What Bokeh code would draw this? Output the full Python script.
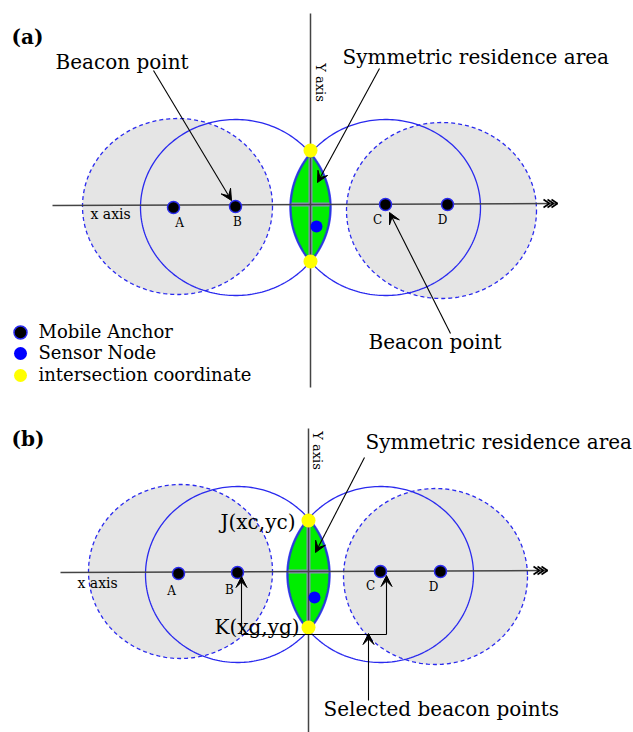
import numpy as np
from bokeh.plotting import figure
from bokeh.models import Range1d, Arrow, VeeHead
from bokeh.core.properties import value
from bokeh.embed import file_html
from bokeh.resources import INLINE

FONT = "DejaVu Serif"
BLUE = "#2a2aee"
GRAY = "#e5e5e5"

# ---------------- data (diagram coordinates, y grows downward) ----------------
anchor_labels = ["A", "B", "C", "D"]

# panel (a)
a_anchor_x = [173, 235, 385, 447]
a_anchor_y = [207, 206, 204, 204]
a_label_x = [179, 237, 377, 442]
a_label_y = [222, 221, 219, 219]
a_circle_cx = [177, 235, 385, 441]
a_circle_cy = [206, 207, 207, 210]
a_circle_rx = [95, 95, 95, 95]
a_circle_ry = [88, 88, 88, 88]
a_yellow_x = [310, 310]
a_yellow_y = [150, 261]
a_sensor_x = [316]
a_sensor_y = [226]
a_xaxis_x = [52, 557]
a_xaxis_y = [205, 203]
a_yaxis_x = [310, 310]
a_yaxis_y = [13, 387]

# panel (b)
b_anchor_x = [178, 237, 380, 440]
b_anchor_y = [573, 572, 571, 571]
b_label_x = [171, 229, 370, 433]
b_label_y = [590, 589, 585, 586]
b_circle_cx = [180, 237, 380, 435]
b_circle_cy = [571, 574, 574, 576]
b_circle_rx = [92, 92, 93, 92]
b_circle_ry = [87, 88, 88, 88]
b_yellow_x = [308, 308]
b_yellow_y = [520, 627]
b_sensor_x = [314]
b_sensor_y = [597]
b_xaxis_x = [60, 547]
b_xaxis_y = [572, 570]
b_yaxis_x = [308, 308]
b_yaxis_y = [428, 732]

# legend
legend_labels = ["Mobile Anchor", "Sensor Node", "intersection coordinate"]
legend_y = [332, 353, 375]

# annotation texts
big_texts = ["Beacon point", "Symmetric residence area", "Beacon point",
             "Symmetric residence area", "J(xc,yc)", "K(xg,yg)", "Selected beacon points"]
big_text_x = [55, 342, 368, 365, 220, 214, 323]
big_text_y = [61, 56, 341, 441, 521, 626, 708]

panel_titles = ["(a)", "(b)"]
panel_title_x = [11, 11]
panel_title_y = [36, 438]

axis_texts = ["x axis", "x axis"]
axis_text_x = [90, 77]
axis_text_y = [213, 582]
yaxis_texts = ["Y axis", "Y axis"]
yaxis_text_x = [320, 317]
yaxis_text_y = [82, 450]

# arrows: start -> end (tip)
arrow_x0 = [153, 379, 450, 364, 241, 386, 368]
arrow_y0 = [70, 68, 333, 457, 634, 634, 700]
arrow_x1 = [231, 317, 389, 315, 241, 386, 368]
arrow_y1 = [200, 182, 212, 552, 576, 575, 633]
connector_x = [241, 386]
connector_y = [634, 634]

# ---------------- figure ----------------
p = figure(width=633, height=732, x_range=Range1d(0, 633), y_range=Range1d(732, 0),
           output_backend="svg", toolbar_location=None, min_border=0)
p.axis.visible = False
p.grid.visible = False
p.outline_line_color = None
p.background_fill_color = "white"


def ellipse_pts(cx, cy, rx, ry, n=240):
    t = np.linspace(0, 2 * np.pi, n)
    return cx + rx * np.cos(t), cy + ry * np.sin(t)


def lens_pts(cxl, cyl, rxl, ryl, cxr, cyr, rxr, ryr):
    # intersection of circle "l" (its right side) and circle "r" (its left side)
    ys = np.linspace(min(cyl - ryl, cyr - ryr), max(cyl + ryl, cyr + ryr), 800)
    ul = 1 - ((ys - cyl) / ryl) ** 2
    ur = 1 - ((ys - cyr) / ryr) ** 2
    ok = (ul >= 0) & (ur >= 0)
    ys = ys[ok]
    right = cxl + rxl * np.sqrt(ul[ok])
    left = cxr - rxr * np.sqrt(ur[ok])
    keep = left <= right
    ys, right, left = ys[keep], right[keep], left[keep]
    xs = np.concatenate([right, left[::-1]])
    yy = np.concatenate([ys, ys[::-1]])
    return xs, yy


def chevrons(tip_x, tip_y):
    xs, ys = [], []
    for k in range(3):
        tx = tip_x - 4 * k
        xs.append([tx - 6, tx, tx - 6])
        ys.append([tip_y - 4, tip_y, tip_y + 4])
    return xs, ys


panels = [
    (a_anchor_x, a_anchor_y, a_label_x, a_label_y, a_circle_cx, a_circle_cy, a_circle_rx, a_circle_ry,
     a_yellow_x, a_yellow_y, a_sensor_x, a_sensor_y, a_xaxis_x, a_xaxis_y, a_yaxis_x, a_yaxis_y),
    (b_anchor_x, b_anchor_y, b_label_x, b_label_y, b_circle_cx, b_circle_cy, b_circle_rx, b_circle_ry,
     b_yellow_x, b_yellow_y, b_sensor_x, b_sensor_y, b_xaxis_x, b_xaxis_y, b_yaxis_x, b_yaxis_y),
]

for (ax, ay, lx, ly, ccx, ccy, crx, cry, yx, yy, sx, sy, xax, xay, yax, yay) in panels:
    # dashed grey range circles (A and D)
    for i in (0, 3):
        ex, ey = ellipse_pts(ccx[i], ccy[i], crx[i], cry[i])
        p.patch(ex, ey, fill_color=GRAY, line_color=BLUE, line_width=1.3, line_dash="4 3")
    # solid circles (B and C)
    for i in (1, 2):
        ex, ey = ellipse_pts(ccx[i], ccy[i], crx[i], cry[i])
        p.line(ex, ey, line_color=BLUE, line_width=1.3)
    # symmetric residence area (lens)
    lxs, lys = lens_pts(ccx[1], ccy[1], crx[1], cry[1], ccx[2], ccy[2], crx[2], cry[2])
    p.patch(lxs, lys, fill_color="#00ee00", line_color=BLUE, line_width=2.5, line_alpha=0.8)
    xc = 0.5 * (yax[0] + yax[1])
    ymid = 0.5 * (xay[0] + xay[1])
    p.line([xc, xc], [lys.min() + 4, lys.max() - 4], line_color="#8a94b8", line_width=4)
    p.line([lxs.min() + 1, lxs.max() - 1], [ymid, ymid], line_color="#8a94b8", line_width=4)
    # axes
    p.line(xax, xay, line_color="#444444", line_width=1.5)
    p.line(yax, yay, line_color="#444444", line_width=1.5)
    cx_, cy_ = chevrons(xax[1], xay[1])
    p.multi_line(cx_, cy_, line_color="black", line_width=1.6)
    # points
    p.scatter(ax, ay, size=12, fill_color="black", line_color=BLUE, line_width=1.5)
    p.scatter(yx, yy, size=14, fill_color="#ffff00", line_color=None)
    p.scatter(sx, sy, size=12, fill_color="#0000ff", line_color=None)
    p.text(lx, ly, text=anchor_labels, text_font=value(FONT), text_font_size="12px",
           text_align="center", text_baseline="middle", text_color="black")

# legend
p.scatter([20, 20, 20], legend_y, size=13,
          fill_color=["black", "#0000ff", "#ffff00"], line_color=[BLUE, None, None], line_width=1.5)
p.text([38, 38, 38], [v - 1 for v in legend_y], text=legend_labels, text_font=value(FONT),
       text_font_size="18px", text_align="left", text_baseline="middle", text_color="black")

# connector and arrows
p.line(connector_x, connector_y, line_color="black", line_width=1.2)
for x0, y0, x1, y1 in zip(arrow_x0, arrow_y0, arrow_x1, arrow_y1):
    p.add_layout(Arrow(end=VeeHead(size=11, fill_color="black", line_color="black"),
                       x_start=x0, y_start=y0, x_end=x1, y_end=y1,
                       line_color="black", line_width=1.1))

# texts
p.text(big_text_x, big_text_y, text=big_texts, text_font=value(FONT), text_font_size="20px",
       text_align="left", text_baseline="middle", text_color="black")
p.text(panel_title_x, panel_title_y, text=panel_titles, text_font=value(FONT), text_font_size="20px",
       text_font_style="bold", text_align="left", text_baseline="middle", text_color="black")
p.text(axis_text_x, axis_text_y, text=axis_texts, text_font=value(FONT), text_font_size="14px",
       text_align="left", text_baseline="middle", text_color="black")
p.text(yaxis_text_x, yaxis_text_y, text=yaxis_texts, text_font=value(FONT), text_font_size="13px",
       text_align="center", text_baseline="middle", angle=-np.pi / 2, text_color="black")

open("out.html", "w").write(file_html(p, INLINE))
